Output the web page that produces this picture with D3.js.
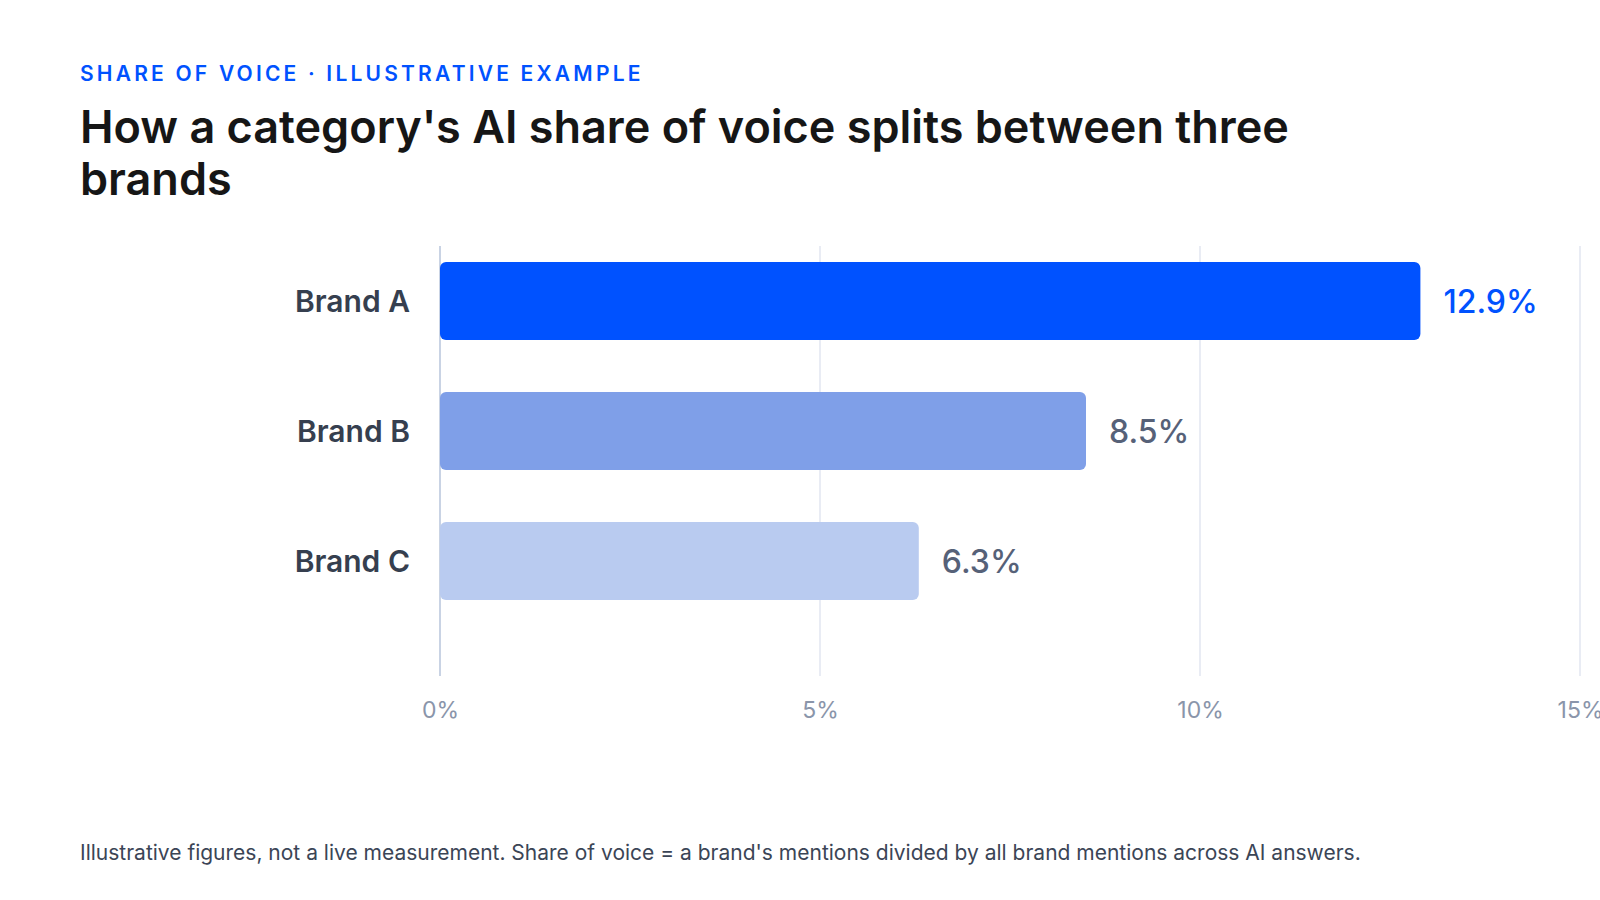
<!DOCTYPE html>
<html>
<head>
<meta charset="utf-8">
<script src="https://cdn.jsdelivr.net/npm/d3@7"></script>
<style>
	html, body { margin: 0; padding: 0; background: #fff; }
	svg { display: block; font-family: Inter, "Noto Sans", sans-serif; }
</style>
</head>
<body>
<div id="chart"></div>
<script>
//chart data
let brands = ["Brand A", "Brand B", "Brand C"];
let shares = [12.9, 8.5, 6.3];
let barColors = ["#0052ff", "#7f9fe8", "#b9cbf0"];
let labelColors = ["#0052ff", "#566178", "#566178"];
let xTicks = [0, 5, 10, 15];

let eyebrow = "SHARE OF VOICE · ILLUSTRATIVE EXAMPLE";
let title = "How a category's AI share of voice splits between three brands";
let footnote = "Illustrative figures, not a live measurement. Share of voice = a brand's mentions divided by all brand mentions across AI answers.";

let width = 1600, height = 900;
let svg = d3.select("#chart").append("svg")
	.attr("width", width)
	.attr("height", height)
	.attr("viewBox", `0 0 ${width} ${height}`);

//headings
svg.append("text")
	.attr("x", 80)
	.attr("y", 81)
	.attr("fill", "#0052ff")
	.attr("font-size", 21)
	.attr("font-weight", 600)
	.attr("letter-spacing", "3.2px")
	.text(eyebrow);

//wrap title into lines no wider than maxWidth
let titleText = svg.append("text")
	.attr("x", 80)
	.attr("y", 143)
	.attr("fill", "#161616")
	.attr("font-size", 45)
	.attr("font-weight", 600);
let maxWidth = 1340;
let words = title.split(" ");
let line = [];
let tspan = titleText.append("tspan").attr("x", 80).attr("dy", 0);
words.forEach(w => {
	line.push(w);
	tspan.text(line.join(" "));
	if (tspan.node().getComputedTextLength() > maxWidth && line.length > 1) {
		line.pop();
		tspan.text(line.join(" "));
		line = [w];
		tspan = titleText.append("tspan").attr("x", 80).attr("dy", 52).text(w);
	}
});

//scales
let x = d3.scaleLinear().domain([0, 15]).range([440, 1580]);
let y = d3.scaleBand().domain(brands).range([236, 626]).paddingInner(0.4).paddingOuter(0.2);
let gridTop = 246, gridBottom = 676;

//gridlines
svg.append("g")
	.selectAll("line")
	.data(xTicks)
	.enter()
	.append("line")
	.attr("x1", d => x(d))
	.attr("x2", d => x(d))
	.attr("y1", gridTop)
	.attr("y2", gridBottom)
	.attr("stroke", d => d === 0 ? "#c9d3e4" : "#e2e6f0")
	.attr("stroke-width", d => d === 0 ? 2 : 1.5);

//x axis labels
let xAxis = d3.axisBottom(x)
	.tickValues(xTicks)
	.tickFormat(d => d + "%")
	.tickSize(0)
	.tickPadding(0);
let axisG = svg.append("g")
	.attr("transform", `translate(0, 701)`)
	.call(xAxis);
axisG.select(".domain").remove();
axisG.selectAll("text")
	.attr("dy", "0.72em")
	.attr("font-family", "Inter, sans-serif")
	.attr("font-size", 23)
	.attr("fill", "#8a95aa");

let rows = brands.map((b, i) => ({ brand: b, value: shares[i], color: barColors[i], labelColor: labelColors[i] }));

//bars
svg.append("g")
	.selectAll("rect")
	.data(rows)
	.enter()
	.append("rect")
	.attr("x", x(0))
	.attr("y", d => y(d.brand))
	.attr("width", d => x(d.value) - x(0))
	.attr("height", y.bandwidth())
	.attr("rx", 6)
	.attr("fill", d => d.color);

//brand labels
svg.append("g")
	.selectAll("text")
	.data(rows)
	.enter()
	.append("text")
	.attr("x", x(0) - 30)
	.attr("y", d => y(d.brand) + y.bandwidth() / 2)
	.attr("dy", "0.36em")
	.attr("text-anchor", "end")
	.attr("font-size", 30)
	.attr("font-weight", 600)
	.attr("fill", "#363f4f")
	.text(d => d.brand);

//value labels
svg.append("g")
	.selectAll("text")
	.data(rows)
	.enter()
	.append("text")
	.attr("x", d => x(d.value) + 23)
	.attr("y", d => y(d.brand) + y.bandwidth() / 2)
	.attr("dy", "0.36em")
	.attr("font-size", 32)
	.attr("font-weight", 500)
	.attr("fill", d => d.labelColor)
	.text(d => d.value.toFixed(1) + "%");

//footnote
svg.append("text")
	.attr("x", 80)
	.attr("y", 860)
	.attr("font-size", 21)
	.attr("fill", "#3b4556")
	.text(footnote);
</script>
</body>
</html>
